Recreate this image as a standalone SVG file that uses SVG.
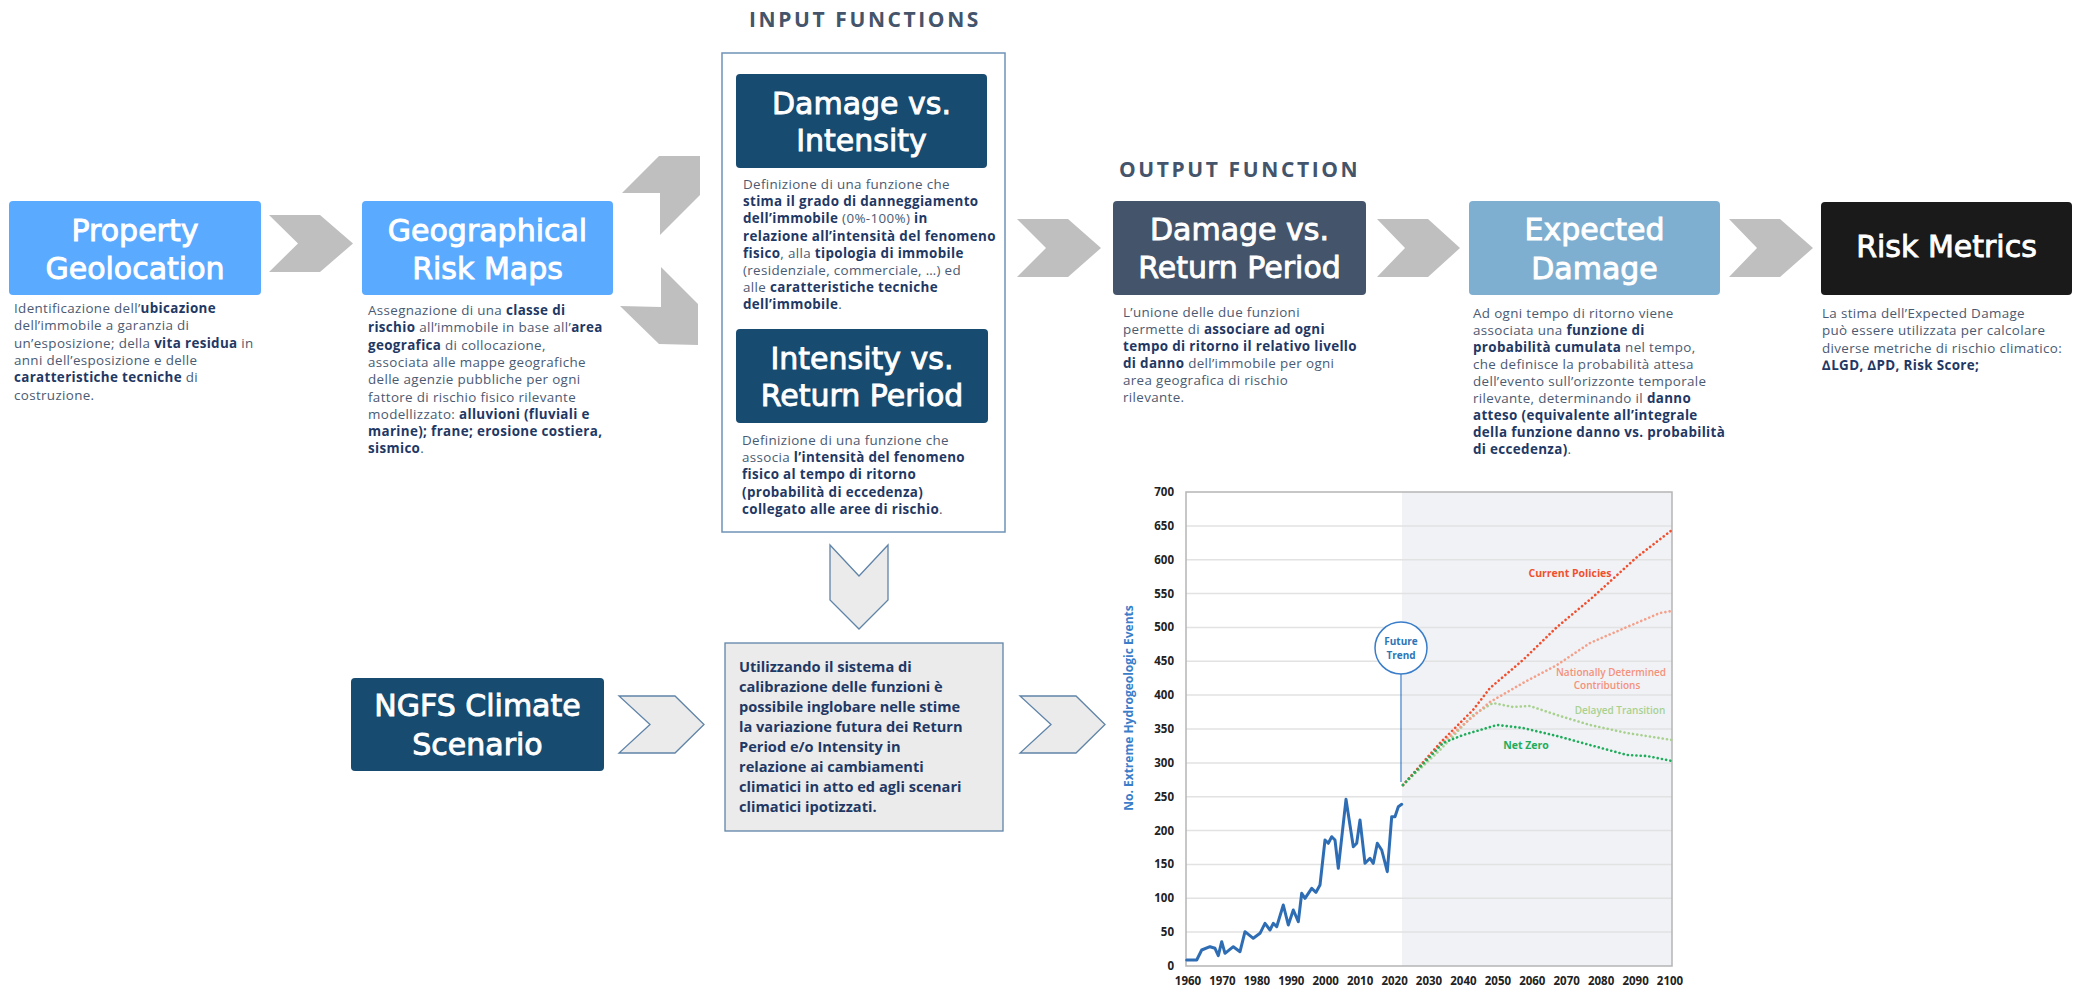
<svg xmlns="http://www.w3.org/2000/svg" width="2073" height="988" viewBox="0 0 2073 988">
<style>
.t{font-family:'DejaVu Sans',sans-serif;font-size:30px;fill:#fff;stroke:#fff;stroke-width:0.9;text-anchor:middle}
.d{font-family:'Open Sans',sans-serif;font-size:13.4px;letter-spacing:0.35px;fill:#4a5a72}
.b{font-weight:700;fill:#1f3864}
.h{font-family:'Open Sans',sans-serif;font-size:21px;font-weight:700;fill:#44546a;letter-spacing:2.6px}
.chev{fill:#bfbfbf}
.chevo{fill:#ebebeb;stroke:#5f84a8;stroke-width:1.3}
.cal{font-family:'Open Sans',sans-serif;font-size:14.6px;font-weight:700;fill:#1f3864}
.grid{stroke:#e2e2e2;stroke-width:1.5}
.yl{font-family:'Open Sans',sans-serif;font-size:11.5px;font-weight:700;fill:#222;text-anchor:end}
.xl{font-family:'Open Sans',sans-serif;font-size:11.5px;font-weight:700;fill:#222;text-anchor:middle}
.dot{fill:none;stroke-width:2.6;stroke-linecap:round;stroke-dasharray:0.1 4.2}
</style>

<text class="h" x="865" y="27" text-anchor="middle">INPUT FUNCTIONS</text>
<text class="h" x="1119" y="177">OUTPUT FUNCTION</text>

<g id="connectors">
<polygon class="chev" points="269,215 320,215 353,243.5 320,272 269,272 298,243.5"/>
<polygon class="chev" points="622,193 659,156 700,156 700,195 660,235 660,193"/>
<polygon class="chev" points="620,306 661,307 661,267 698,304 698,345 659,344"/>
<polygon class="chev" points="1017,219 1068,219 1101,248 1068,277 1017,277 1046,248"/>
<polygon class="chev" points="1377,219 1428,219 1460,248 1428,277 1377,277 1405,248"/>
<polygon class="chev" points="1729,219 1780,219 1813,248 1780,277 1729,277 1757,248"/>
<polygon class="chevo" points="830,545 859,576 888,545 888,600 859,629 830,600"/>
<polygon class="chevo" points="619,696 675,696 704,724.5 675,753 619,753 650,724.5"/>
<polygon class="chevo" points="1020,696 1076,696 1105,724.5 1076,753 1020,753 1051,724.5"/>
</g>

<g id="property-geolocation">
<rect x="9" y="201" width="252" height="94" rx="4" fill="#5aabff"/>
<text class="t" x="135" y="241">Property</text>
<text class="t" x="135" y="279">Geolocation</text>
<text class="d" x="14" y="313">Identificazione dell’<tspan class="b">ubicazione</tspan></text>
<text class="d" x="14" y="330.3">dell’immobile a garanzia di</text>
<text class="d" x="14" y="347.6">un’esposizione; della <tspan class="b">vita residua</tspan> in</text>
<text class="d" x="14" y="364.9">anni dell’esposizione e delle</text>
<text class="d" x="14" y="382.2"><tspan class="b">caratteristiche tecniche</tspan> di</text>
<text class="d" x="14" y="399.5">costruzione.</text>
</g>

<g id="geographical-risk-maps">
<rect x="362" y="201" width="251" height="94" rx="4" fill="#5aabff"/>
<text class="t" x="487.5" y="241">Geographical</text>
<text class="t" x="487.5" y="279">Risk Maps</text>
<text class="d" x="368" y="315">Assegnazione di una <tspan class="b">classe di</tspan></text>
<text class="d" x="368" y="332.3"><tspan class="b">rischio</tspan> all’immobile in base all’<tspan class="b">area</tspan></text>
<text class="d" x="368" y="349.6"><tspan class="b">geografica</tspan> di collocazione,</text>
<text class="d" x="368" y="366.9">associata alle mappe geografiche</text>
<text class="d" x="368" y="384.2">delle agenzie pubbliche per ogni</text>
<text class="d" x="368" y="401.5">fattore di rischio fisico rilevante</text>
<text class="d" x="368" y="418.8">modellizzato: <tspan class="b">alluvioni (fluviali e</tspan></text>
<text class="d" x="368" y="436.1"><tspan class="b">marine); frane; erosione costiera,</tspan></text>
<text class="d" x="368" y="453.4"><tspan class="b">sismico</tspan>.</text>
</g>

<g id="input-functions">
<rect x="722" y="53" width="283" height="479" fill="#fff" stroke="#6f93b6" stroke-width="1.5"/>
</g>

<g id="damage-vs-intensity">
<rect x="736" y="74" width="251" height="94" rx="4" fill="#174b70"/>
<text class="t" x="861.5" y="114">Damage vs.</text>
<text class="t" x="861.5" y="151">Intensity</text>
<text class="d" x="743" y="189">Definizione di una funzione che</text>
<text class="d" x="743" y="206.2"><tspan class="b">stima il grado di danneggiamento</tspan></text>
<text class="d" x="743" y="223.4"><tspan class="b">dell’immobile</tspan> (0%-100%) <tspan class="b">in</tspan></text>
<text class="d" x="743" y="240.6"><tspan class="b">relazione all’intensità del fenomeno</tspan></text>
<text class="d" x="743" y="257.8"><tspan class="b">fisico</tspan>, alla <tspan class="b">tipologia di immobile</tspan></text>
<text class="d" x="743" y="275">(residenziale, commerciale, …) ed</text>
<text class="d" x="743" y="292.2">alle <tspan class="b">caratteristiche tecniche</tspan></text>
<text class="d" x="743" y="309.4"><tspan class="b">dell’immobile</tspan>.</text>
</g>

<g id="intensity-vs-return-period">
<rect x="736" y="329" width="252" height="94" rx="4" fill="#174b70"/>
<text class="t" x="862" y="369">Intensity vs.</text>
<text class="t" x="862" y="406">Return Period</text>
<text class="d" x="742" y="445">Definizione di una funzione che</text>
<text class="d" x="742" y="462.2">associa <tspan class="b">l’intensità del fenomeno</tspan></text>
<text class="d" x="742" y="479.4"><tspan class="b">fisico al tempo di ritorno</tspan></text>
<text class="d" x="742" y="496.6"><tspan class="b">(probabilità di eccedenza)</tspan></text>
<text class="d" x="742" y="513.8"><tspan class="b">collegato alle aree di rischio</tspan>.</text>
</g>

<g id="damage-vs-return-period">
<rect x="1113" y="201" width="253" height="94" rx="4" fill="#44546a"/>
<text class="t" x="1239.5" y="240">Damage vs.</text>
<text class="t" x="1239.5" y="278">Return Period</text>
<text class="d" x="1123" y="317">L’unione delle due funzioni</text>
<text class="d" x="1123" y="334">permette di <tspan class="b">associare ad ogni</tspan></text>
<text class="d" x="1123" y="351"><tspan class="b">tempo di ritorno il relativo livello</tspan></text>
<text class="d" x="1123" y="368"><tspan class="b">di danno</tspan> dell’immobile per ogni</text>
<text class="d" x="1123" y="385">area geografica di rischio</text>
<text class="d" x="1123" y="402">rilevante.</text>
</g>

<g id="expected-damage">
<rect x="1469" y="201" width="251" height="94" rx="4" fill="#7fafd0"/>
<text class="t" x="1594.5" y="240">Expected</text>
<text class="t" x="1594.5" y="279">Damage</text>
<text class="d" x="1473" y="318">Ad ogni tempo di ritorno viene</text>
<text class="d" x="1473" y="335">associata una <tspan class="b">funzione di</tspan></text>
<text class="d" x="1473" y="352"><tspan class="b">probabilità cumulata</tspan> nel tempo,</text>
<text class="d" x="1473" y="369">che definisce la probabilità attesa</text>
<text class="d" x="1473" y="386">dell’evento sull’orizzonte temporale</text>
<text class="d" x="1473" y="403">rilevante, determinando il <tspan class="b">danno</tspan></text>
<text class="d" x="1473" y="420"><tspan class="b">atteso (equivalente all’integrale</tspan></text>
<text class="d" x="1473" y="437"><tspan class="b">della funzione danno vs. probabilità</tspan></text>
<text class="d" x="1473" y="454"><tspan class="b">di eccedenza)</tspan>.</text>
</g>

<g id="risk-metrics">
<rect x="1821" y="202" width="251" height="93" rx="4" fill="#1a1a1a"/>
<text class="t" x="1946.5" y="257">Risk Metrics</text>
<text class="d" x="1822" y="318">La stima dell’Expected Damage</text>
<text class="d" x="1822" y="335.3">può essere utilizzata per calcolare</text>
<text class="d" x="1822" y="352.6">diverse metriche di rischio climatico:</text>
<text class="d" x="1822" y="369.9"><tspan class="b">∆LGD, ∆PD, Risk Score;</tspan></text>
</g>

<g id="ngfs-climate-scenario">
<rect x="351" y="678" width="253" height="93" rx="4" fill="#174b70"/>
<text class="t" x="477.5" y="716">NGFS Climate</text>
<text class="t" x="477.5" y="755">Scenario</text>
</g>

<g id="calibration">
<rect x="725" y="643" width="278" height="188" fill="#ebebeb" stroke="#5f84a8" stroke-width="1.3"/>
<text class="cal" x="739" y="672">Utilizzando il sistema di</text>
<text class="cal" x="739" y="692">calibrazione delle funzioni è</text>
<text class="cal" x="739" y="712">possibile inglobare nelle stime</text>
<text class="cal" x="739" y="732">la variazione futura dei Return</text>
<text class="cal" x="739" y="752">Period e/o Intensity in</text>
<text class="cal" x="739" y="772">relazione ai cambiamenti</text>
<text class="cal" x="739" y="792">climatici in atto ed agli scenari</text>
<text class="cal" x="739" y="812">climatici ipotizzati.</text>
</g>

<g id="chart">
<rect x="1402" y="492" width="270" height="474" fill="#f0f2f6"/>
<g class="grid">
<line x1="1186" y1="932.1" x2="1672" y2="932.1"/>
<line x1="1186" y1="898.3" x2="1672" y2="898.3"/>
<line x1="1186" y1="864.4" x2="1672" y2="864.4"/>
<line x1="1186" y1="830.6" x2="1672" y2="830.6"/>
<line x1="1186" y1="796.7" x2="1672" y2="796.7"/>
<line x1="1186" y1="762.9" x2="1672" y2="762.9"/>
<line x1="1186" y1="729" x2="1672" y2="729"/>
<line x1="1186" y1="695.1" x2="1672" y2="695.1"/>
<line x1="1186" y1="661.3" x2="1672" y2="661.3"/>
<line x1="1186" y1="627.4" x2="1672" y2="627.4"/>
<line x1="1186" y1="593.6" x2="1672" y2="593.6"/>
<line x1="1186" y1="559.7" x2="1672" y2="559.7"/>
<line x1="1186" y1="525.9" x2="1672" y2="525.9"/>
</g>
<rect x="1186" y="492" width="486" height="474" fill="none" stroke="#b5b5b5" stroke-width="1.5"/>
<g>
<text class="yl" x="1174" y="970">0</text>
<text class="yl" x="1174" y="936.1">50</text>
<text class="yl" x="1174" y="902.3">100</text>
<text class="yl" x="1174" y="868.4">150</text>
<text class="yl" x="1174" y="834.6">200</text>
<text class="yl" x="1174" y="800.7">250</text>
<text class="yl" x="1174" y="766.9">300</text>
<text class="yl" x="1174" y="733">350</text>
<text class="yl" x="1174" y="699.1">400</text>
<text class="yl" x="1174" y="665.3">450</text>
<text class="yl" x="1174" y="631.4">500</text>
<text class="yl" x="1174" y="597.6">550</text>
<text class="yl" x="1174" y="563.7">600</text>
<text class="yl" x="1174" y="529.9">650</text>
<text class="yl" x="1174" y="496">700</text>
</g>
<g>
<text class="xl" x="1188" y="985">1960</text>
<text class="xl" x="1222.4" y="985">1970</text>
<text class="xl" x="1256.9" y="985">1980</text>
<text class="xl" x="1291.3" y="985">1990</text>
<text class="xl" x="1325.7" y="985">2000</text>
<text class="xl" x="1360.1" y="985">2010</text>
<text class="xl" x="1394.6" y="985">2020</text>
<text class="xl" x="1429" y="985">2030</text>
<text class="xl" x="1463.4" y="985">2040</text>
<text class="xl" x="1497.9" y="985">2050</text>
<text class="xl" x="1532.3" y="985">2060</text>
<text class="xl" x="1566.7" y="985">2070</text>
<text class="xl" x="1601.1" y="985">2080</text>
<text class="xl" x="1635.6" y="985">2090</text>
<text class="xl" x="1670" y="985">2100</text>
</g>
<text x="1133" y="708" transform="rotate(-90 1133 708)" text-anchor="middle" font-family="'Open Sans',sans-serif" font-size="12" font-weight="700" fill="#3a7dc9">No. Extreme Hydrogeologic Events</text>
<polyline fill="none" stroke="#2e6db4" stroke-width="3" stroke-linejoin="round" stroke-linecap="round" points="1186.7,960 1196.7,960 1201.7,950 1210,946.7 1215,948.3 1218.3,955.7 1221.7,941.7 1225,953.3 1233.3,946.7 1240,951.7 1245,931.7 1253.3,938.3 1260,933.3 1265,923.3 1270,930 1273.3,923.3 1276.7,926.7 1283.3,905 1288.3,925 1293.3,910 1298.3,921.7 1301.7,893.3 1305,898.3 1311.7,888.3 1316,892.3 1320,885 1325,840 1328.3,843.3 1331.7,836.7 1335,840 1338.3,868.3 1346,799.3 1353.3,846.7 1356.7,843.3 1360,820 1365,863.3 1370,858.3 1373.3,863.3 1377.3,843.3 1381.7,850 1387.3,871.7 1391.7,816.7 1395,816.7 1398.3,806.7 1401.7,804.3"/>
<polyline class="dot" stroke="#a9d18e" points="1403,785 1440,750 1473,715 1493,703 1513,707 1530,706 1557,715 1590,725 1627,733 1672,740"/>
<polyline class="dot" stroke="#f4a08a" points="1403,785 1440,745 1457,730 1490,702 1523,683 1557,665 1590,643 1627,627 1660,613 1672,611"/>
<polyline class="dot" stroke="#f0502f" points="1403,785 1440,743 1473,710 1490,688 1523,660 1557,627 1593,597 1615,577 1637,557 1672,530"/>
<polyline class="dot" stroke="#1fad5b" points="1403,785 1443,743 1463,735 1497,725 1523,728 1557,736 1590,745 1627,755 1647,756 1672,761"/>
<line x1="1401" y1="674" x2="1401" y2="782" stroke="#3a7dc9" stroke-width="1.2"/>
<circle cx="1401" cy="648" r="26" fill="#fff" stroke="#3a7dc9" stroke-width="1.5"/>
<text x="1401" y="645" text-anchor="middle" font-family="'Open Sans',sans-serif" font-size="10" font-weight="700" fill="#2e75b6">Future</text>
<text x="1401" y="659" text-anchor="middle" font-family="'Open Sans',sans-serif" font-size="10" font-weight="700" fill="#2e75b6">Trend</text>
<text x="1570" y="577" text-anchor="middle" font-family="'Open Sans',sans-serif" font-size="10.5" font-weight="700" fill="#f0502f">Current Policies</text>
<text x="1611" y="676" text-anchor="middle" font-family="'Open Sans',sans-serif" font-size="10" font-weight="600" fill="#f4917a">Nationally Determined</text>
<text x="1607" y="689" text-anchor="middle" font-family="'Open Sans',sans-serif" font-size="10" font-weight="600" fill="#f4917a">Contributions</text>
<text x="1620" y="714" text-anchor="middle" font-family="'Open Sans',sans-serif" font-size="10" font-weight="600" fill="#a9d18e">Delayed Transition</text>
<text x="1526" y="749" text-anchor="middle" font-family="'Open Sans',sans-serif" font-size="10.5" font-weight="700" fill="#1fad5b">Net Zero</text>
</g>
</svg>
